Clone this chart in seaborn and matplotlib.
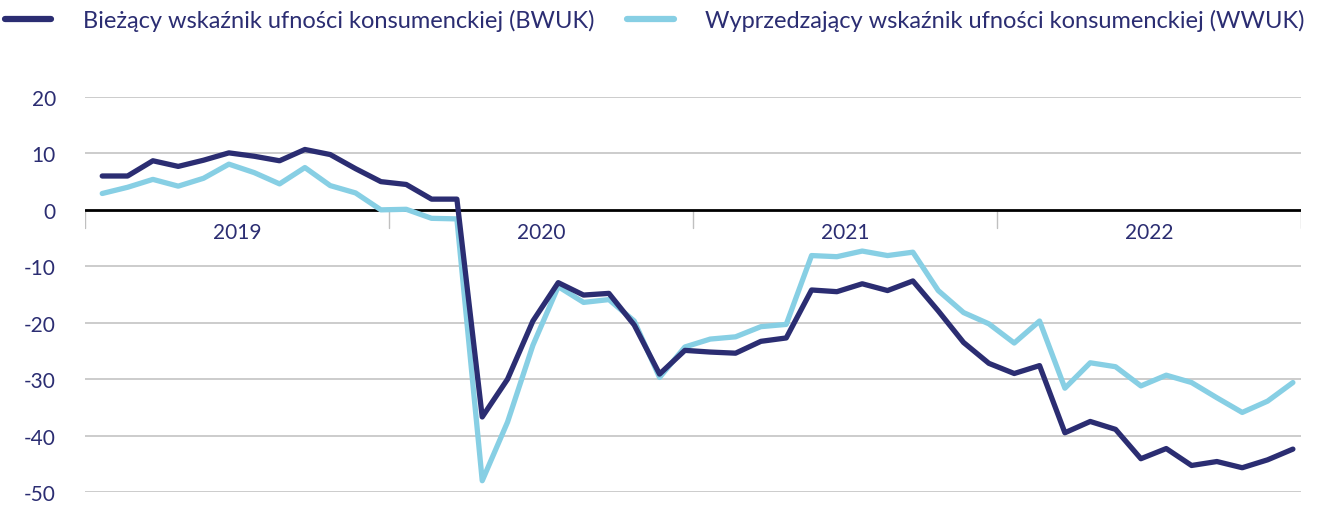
import pandas as pd
import numpy as np
import seaborn as sns
from matplotlib import pyplot as plt
from matplotlib.lines import Line2D

sns.set_theme(style='white')
plt.rcParams['font.family'] = ['Lato', 'DejaVu Sans']

# dane miesieczne 2019-01 .. 2022-12
years = ['2019', '2020', '2021', '2022']
bwuk = [6.0, 6.0, 8.7, 7.7, 8.8, 10.1, 9.5, 8.7, 10.7, 9.8, 7.3, 5.0,
        4.5, 1.9, 1.9, -36.7, -30.0, -19.7, -12.9, -15.1, -14.8, -20.4, -29.1, -24.9,
        -25.2, -25.4, -23.3, -22.7, -14.2, -14.5, -13.1, -14.3, -12.6, -17.9, -23.5, -27.2,
        -29.0, -27.6, -39.5, -37.5, -38.9, -44.1, -42.3, -45.3, -44.6, -45.7, -44.3, -42.4]
wwuk = [2.9, 4.0, 5.4, 4.2, 5.6, 8.1, 6.6, 4.6, 7.5, 4.3, 3.0, 0.0,
        0.1, -1.5, -1.6, -48.0, -37.6, -24.0, -13.6, -16.4, -15.9, -19.7, -29.7, -24.3,
        -22.9, -22.5, -20.7, -20.3, -8.1, -8.3, -7.3, -8.1, -7.5, -14.3, -18.2, -20.2,
        -23.6, -19.7, -31.6, -27.1, -27.8, -31.2, -29.3, -30.6, -33.3, -35.9, -33.9, -30.6]
labels = ['Bieżący wskaźnik ufności konsumenckiej (BWUK)',
          'Wyprzedzający wskaźnik ufności konsumenckiej (WWUK)']
yticks = [20, 10, 0, -10, -20, -30, -40, -50]

navy = '#2b2d72'
light = '#87cfe4'

n = len(bwuk)
df = pd.DataFrame({
    'x': list(range(n)) * 2,
    'val': wwuk + bwuk,
    'seria': [labels[1]] * n + [labels[0]] * n,
})

fig = plt.figure(figsize=(13.33, 5.06), dpi=100)
ax = fig.add_axes([85/1333, 1-493/506, (1301-85)/1333, (493-98)/506])

sns.lineplot(data=df, x='x', y='val', hue='seria', ax=ax,
             palette={labels[0]: navy, labels[1]: light},
             linewidth=3.8, legend=False)
for l in ax.lines:
    l.set_solid_capstyle('round')
    l.set_zorder(4)
    l.set_clip_on(False)

# siatka i os zero
for t in yticks:
    if t != 0:
        ax.axhline(t, color='#c8c8c8', lw=1.3, zorder=1)
ax.axhline(0, color='black', lw=2, zorder=3)

off = -0.68
ax.set_xlim(off, off + 48)
ax.set_ylim(-50, 20)

for k in range(5):
    ax.plot([off + 12*k, off + 12*k], [0, -3.2], color='#c0c0c0', lw=1, zorder=2)
for k, y in enumerate(years):
    ax.annotate(y, xy=(off + 6 + 12*k, 0), xytext=(0, -9), textcoords='offset points',
                ha='center', va='top', fontsize=15, color=navy)

ax.set_yticks(yticks)
ax.set_yticklabels([str(t) for t in yticks], fontsize=15, color=navy)
ax.tick_params(axis='y', length=0, pad=21)
ax.set_xticks([])
ax.set_xlabel('')
ax.set_ylabel('')
sns.despine(ax=ax, left=True, bottom=True)

handles = [Line2D([], [], color=navy, lw=4.5, solid_capstyle='round'),
           Line2D([], [], color=light, lw=4.5, solid_capstyle='round')]
fig.legend(handles, labels, loc='center left', bbox_to_anchor=(5/1333, 1-21/506), ncol=2,
           frameon=False, fontsize=17, labelcolor=navy, handlelength=1.95,
           handletextpad=1.35, columnspacing=1.4, borderpad=0, borderaxespad=0)

fig.savefig('out.png', dpi=100)
